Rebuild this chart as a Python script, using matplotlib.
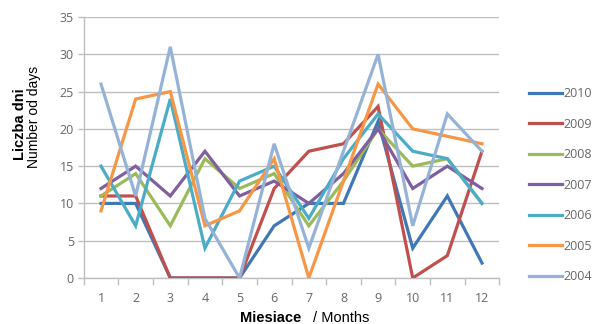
import matplotlib
matplotlib.use("Agg")
import matplotlib.pyplot as plt

months = [1, 2, 3, 4, 5, 6, 7, 8, 9, 10, 11, 12]
month_labels = ["1", "2", "3", "4", "5", "6", "7", "8", "9", "10", "11", "12"]
years = ["2010", "2009", "2008", "2007", "2006", "2005", "2004"]

v2010 = [10, 10, 0, 0, 0, 7, 10, 10, 21, 4, 11, 2]
v2009 = [11, 11, 0, 0, 0, 12, 17, 18, 23, 0, 3, 17]
v2008 = [11, 14, 7, 16, 12, 14, 7, 13, 20, 15, 16, 10]
v2007 = [12, 15, 11, 17, 11, 13, 10, 14, 20, 12, 15, 12]
v2006 = [15, 7, 24, 4, 13, 15, 8, 16, 22, 17, 16, 10]
v2005 = [9, 24, 25, 7, 9, 16, 0, 13, 26, 20, 19, 18]
v2004 = [26, 11, 31, 8, 0, 18, 4, 17, 30, 7, 22, 17]

series = [v2010, v2009, v2008, v2007, v2006, v2005, v2004]
colors = ["#3F78B5", "#C0504D", "#9BBB59", "#7F5FA0", "#4BACC6", "#F79646", "#95B3D7"]

yticks = [0, 5, 10, 15, 20, 25, 30, 35]

W, H = 599, 324
fig = plt.figure(figsize=(W / 100, H / 100), dpi=100)
fig.patch.set_facecolor("white")
ax = fig.add_axes([83.7 / W, (H - 278) / H, (499.3 - 83.7) / W, (278 - 17) / H])

grid_c = "#BFBFBF"
for vals, c, lab in zip(series, colors, years):
    ax.plot(months, vals, color=c, lw=2.3, label=lab, solid_joinstyle="miter", zorder=3)

ax.set_xlim(0.5, 12.5)
ax.set_ylim(0, 35)
ax.set_yticks(yticks)
ax.set_yticklabels([str(t) for t in yticks])
ax.set_xticks(months)
ax.set_xticklabels(month_labels)
ax.set_xticks([m + 0.5 for m in [0] + months], minor=True)
ax.yaxis.grid(True, color=grid_c, lw=1.0, zorder=0)
ax.set_axisbelow(True)

for s in ["top", "right"]:
    ax.spines[s].set_visible(False)
for s in ["left", "bottom"]:
    ax.spines[s].set_color(grid_c)
    ax.spines[s].set_linewidth(1.0)

ax.tick_params(axis="x", which="major", length=0, pad=10, labelsize=9, labelcolor="#666666")
ax.tick_params(axis="x", which="minor", length=5, color=grid_c, width=1.0)
ax.tick_params(axis="y", which="major", length=4, color=grid_c, width=1.0, pad=3,
               labelsize=9, labelcolor="#666666")
for t in ax.get_xticklabels() + ax.get_yticklabels():
    t.set_fontfamily("Open Sans")

leg = ax.legend(loc="upper left", bbox_to_anchor=(518 / W, (H - 76) / H),
                bbox_transform=fig.transFigure, frameon=False,
                handlelength=2.6, handletextpad=0.1, labelspacing=1.4,
                prop={"family": "Open Sans", "size": 9})
for t in leg.get_texts():
    t.set_color("#666666")

fig.text(20 / W, (H - 124) / H, "Liczba dni", rotation=90, ha="center", va="center",
         fontsize=10.5, fontweight="bold", family="Liberation Sans")
fig.text(34 / W, (H - 117) / H, "Number od days", rotation=90, ha="center", va="center",
         fontsize=10, family="Liberation Sans")
fig.text(240 / W, (H - 318) / H, "Miesiace", ha="left", va="center",
         fontsize=10.5, fontweight="bold", family="Liberation Sans")
fig.text(313 / W, (H - 318) / H, "/ Months", ha="left", va="center",
         fontsize=10.5, family="Liberation Sans")

fig.savefig("out.png", dpi=100, facecolor="white")
